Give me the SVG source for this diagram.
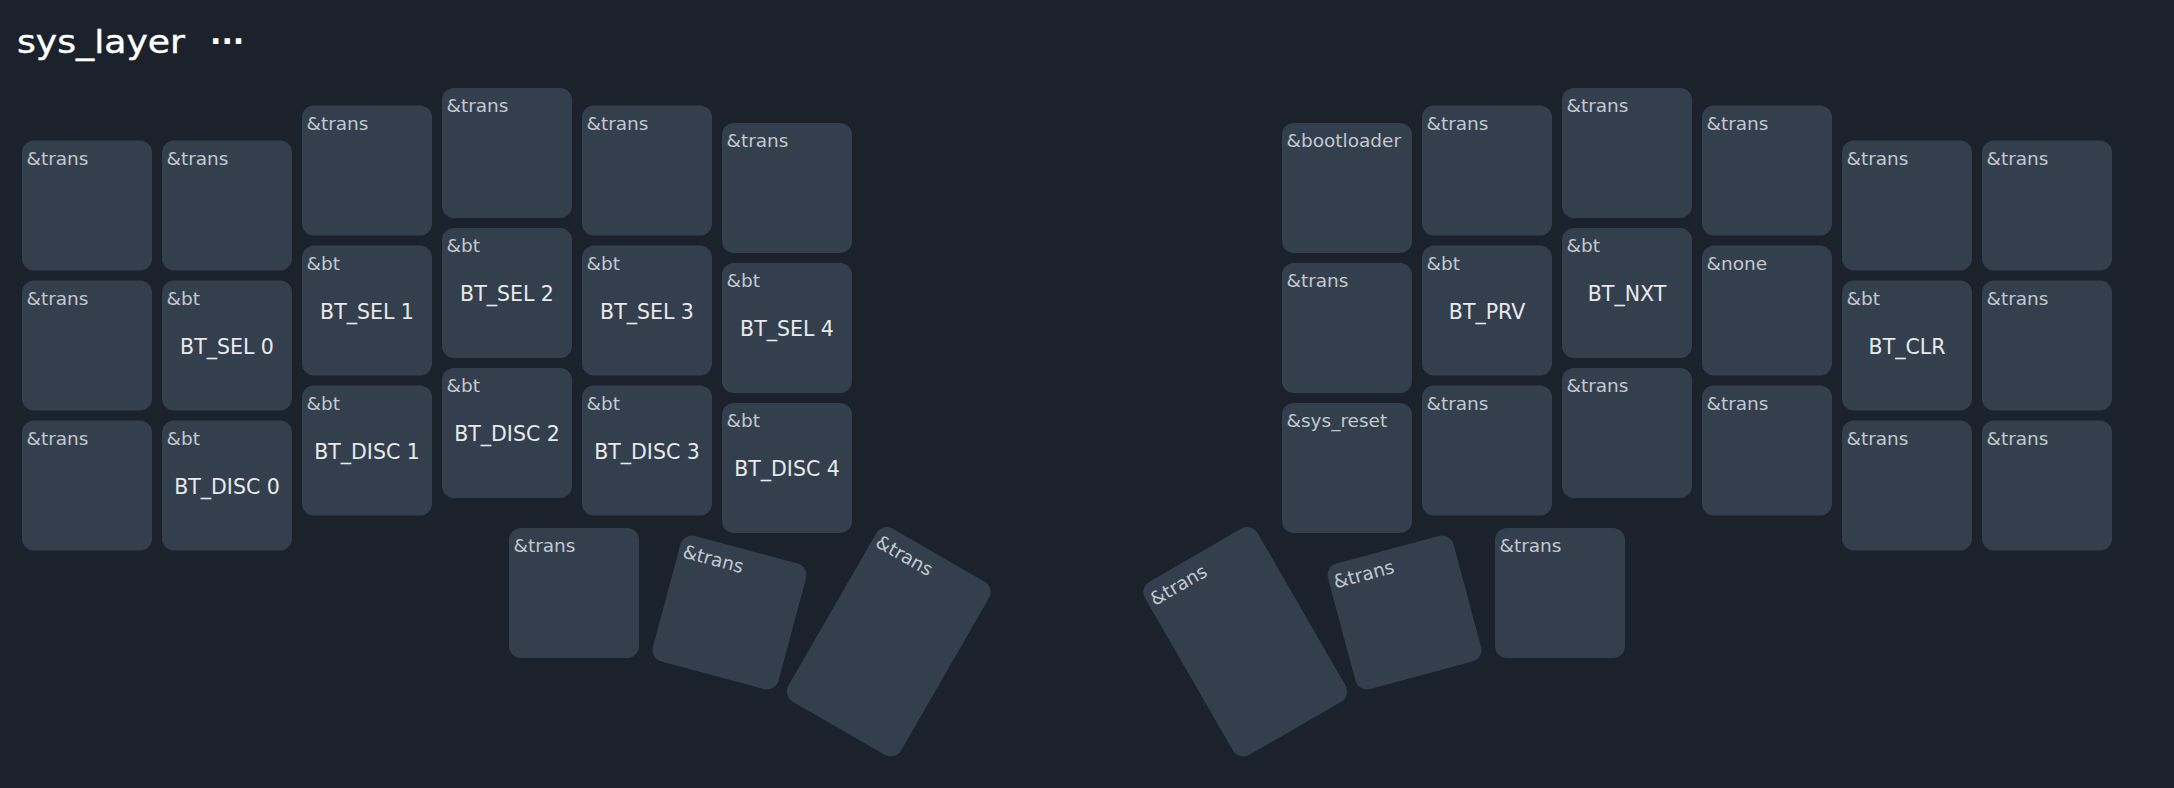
<svg xmlns="http://www.w3.org/2000/svg" width="2174" height="788" viewBox="0 0 2174 788">
<style>
  .bg { fill: #1b222b; }
  .kf { fill: #343f4d; }
  .key .h { font-family: "DejaVu Sans", "Liberation Sans", sans-serif; font-size: 18.5px; fill: #c3c8cf; }
  .key .t { font-family: "DejaVu Sans", "Liberation Sans", sans-serif; font-size: 20.5px; fill: #e8eaee; text-anchor: middle; }
  .title { font-family: "DejaVu Sans", "Liberation Sans", sans-serif; font-size: 32px; fill: #ffffff; stroke: #ffffff; stroke-width: 0.4; }
  .dots { font-family: "DejaVu Sans", "Liberation Sans", sans-serif; font-size: 30px; font-weight: bold; fill: #ffffff; }
</style>
<defs>
  <rect id="k1" class="kf" fill="#343f4d" width="130" height="130" rx="12" ry="12"/>
  <rect id="k15" class="kf" fill="#343f4d" x="-65" y="-100" width="130" height="200" rx="12" ry="12"/>
</defs>
<rect class="bg" x="0" y="0" width="2174" height="788"/>
<g id="title">
  <text class="title" x="17" y="53" textLength="168" lengthAdjust="spacingAndGlyphs">sys_layer</text>
  <text class="dots" x="210" y="52">···</text>
</g>

<!-- Left half -->
<g id="L-r0-c0" class="key" transform="translate(22,140.5)"><use href="#k1"/><text class="h" x="4.5" y="24">&amp;trans</text></g>
<g id="L-r0-c1" class="key" transform="translate(162,140.5)"><use href="#k1"/><text class="h" x="4.5" y="24">&amp;trans</text></g>
<g id="L-r0-c2" class="key" transform="translate(302,105.5)"><use href="#k1"/><text class="h" x="4.5" y="24">&amp;trans</text></g>
<g id="L-r0-c3" class="key" transform="translate(442,88)"><use href="#k1"/><text class="h" x="4.5" y="24">&amp;trans</text></g>
<g id="L-r0-c4" class="key" transform="translate(582,105.5)"><use href="#k1"/><text class="h" x="4.5" y="24">&amp;trans</text></g>
<g id="L-r0-c5" class="key" transform="translate(722,123)"><use href="#k1"/><text class="h" x="4.5" y="24">&amp;trans</text></g>

<g id="L-r1-c0" class="key" transform="translate(22,280.5)"><use href="#k1"/><text class="h" x="4.5" y="24">&amp;trans</text></g>
<g id="L-r1-c1" class="key" transform="translate(162,280.5)"><use href="#k1"/><text class="h" x="4.5" y="24">&amp;bt</text><text class="t" x="65" y="73">BT_SEL 0</text></g>
<g id="L-r1-c2" class="key" transform="translate(302,245.5)"><use href="#k1"/><text class="h" x="4.5" y="24">&amp;bt</text><text class="t" x="65" y="73">BT_SEL 1</text></g>
<g id="L-r1-c3" class="key" transform="translate(442,228)"><use href="#k1"/><text class="h" x="4.5" y="24">&amp;bt</text><text class="t" x="65" y="73">BT_SEL 2</text></g>
<g id="L-r1-c4" class="key" transform="translate(582,245.5)"><use href="#k1"/><text class="h" x="4.5" y="24">&amp;bt</text><text class="t" x="65" y="73">BT_SEL 3</text></g>
<g id="L-r1-c5" class="key" transform="translate(722,263)"><use href="#k1"/><text class="h" x="4.5" y="24">&amp;bt</text><text class="t" x="65" y="73">BT_SEL 4</text></g>

<g id="L-r2-c0" class="key" transform="translate(22,420.5)"><use href="#k1"/><text class="h" x="4.5" y="24">&amp;trans</text></g>
<g id="L-r2-c1" class="key" transform="translate(162,420.5)"><use href="#k1"/><text class="h" x="4.5" y="24">&amp;bt</text><text class="t" x="65" y="73">BT_DISC 0</text></g>
<g id="L-r2-c2" class="key" transform="translate(302,385.5)"><use href="#k1"/><text class="h" x="4.5" y="24">&amp;bt</text><text class="t" x="65" y="73">BT_DISC 1</text></g>
<g id="L-r2-c3" class="key" transform="translate(442,368)"><use href="#k1"/><text class="h" x="4.5" y="24">&amp;bt</text><text class="t" x="65" y="73">BT_DISC 2</text></g>
<g id="L-r2-c4" class="key" transform="translate(582,385.5)"><use href="#k1"/><text class="h" x="4.5" y="24">&amp;bt</text><text class="t" x="65" y="73">BT_DISC 3</text></g>
<g id="L-r2-c5" class="key" transform="translate(722,403)"><use href="#k1"/><text class="h" x="4.5" y="24">&amp;bt</text><text class="t" x="65" y="73">BT_DISC 4</text></g>

<g id="L-t0" class="key" transform="translate(509,528)"><use href="#k1"/><text class="h" x="4.5" y="24">&amp;trans</text></g>
<g id="L-t1" class="key" transform="translate(729.5,612.5) rotate(15)"><use href="#k1" x="-65" y="-65"/><text class="h" x="-60.5" y="-41">&amp;trans</text></g>
<g id="L-t2" class="key" transform="translate(888.75,641.75) rotate(30)"><use href="#k15"/><text class="h" x="-60.5" y="-76">&amp;trans</text></g>

<!-- Right half -->
<g id="R-r0-c0" class="key" transform="translate(1282,123)"><use href="#k1"/><text class="h" x="4.5" y="24">&amp;bootloader</text></g>
<g id="R-r0-c1" class="key" transform="translate(1422,105.5)"><use href="#k1"/><text class="h" x="4.5" y="24">&amp;trans</text></g>
<g id="R-r0-c2" class="key" transform="translate(1562,88)"><use href="#k1"/><text class="h" x="4.5" y="24">&amp;trans</text></g>
<g id="R-r0-c3" class="key" transform="translate(1702,105.5)"><use href="#k1"/><text class="h" x="4.5" y="24">&amp;trans</text></g>
<g id="R-r0-c4" class="key" transform="translate(1842,140.5)"><use href="#k1"/><text class="h" x="4.5" y="24">&amp;trans</text></g>
<g id="R-r0-c5" class="key" transform="translate(1982,140.5)"><use href="#k1"/><text class="h" x="4.5" y="24">&amp;trans</text></g>

<g id="R-r1-c0" class="key" transform="translate(1282,263)"><use href="#k1"/><text class="h" x="4.5" y="24">&amp;trans</text></g>
<g id="R-r1-c1" class="key" transform="translate(1422,245.5)"><use href="#k1"/><text class="h" x="4.5" y="24">&amp;bt</text><text class="t" x="65" y="73">BT_PRV</text></g>
<g id="R-r1-c2" class="key" transform="translate(1562,228)"><use href="#k1"/><text class="h" x="4.5" y="24">&amp;bt</text><text class="t" x="65" y="73">BT_NXT</text></g>
<g id="R-r1-c3" class="key" transform="translate(1702,245.5)"><use href="#k1"/><text class="h" x="4.5" y="24">&amp;none</text></g>
<g id="R-r1-c4" class="key" transform="translate(1842,280.5)"><use href="#k1"/><text class="h" x="4.5" y="24">&amp;bt</text><text class="t" x="65" y="73">BT_CLR</text></g>
<g id="R-r1-c5" class="key" transform="translate(1982,280.5)"><use href="#k1"/><text class="h" x="4.5" y="24">&amp;trans</text></g>

<g id="R-r2-c0" class="key" transform="translate(1282,403)"><use href="#k1"/><text class="h" x="4.5" y="24">&amp;sys_reset</text></g>
<g id="R-r2-c1" class="key" transform="translate(1422,385.5)"><use href="#k1"/><text class="h" x="4.5" y="24">&amp;trans</text></g>
<g id="R-r2-c2" class="key" transform="translate(1562,368)"><use href="#k1"/><text class="h" x="4.5" y="24">&amp;trans</text></g>
<g id="R-r2-c3" class="key" transform="translate(1702,385.5)"><use href="#k1"/><text class="h" x="4.5" y="24">&amp;trans</text></g>
<g id="R-r2-c4" class="key" transform="translate(1842,420.5)"><use href="#k1"/><text class="h" x="4.5" y="24">&amp;trans</text></g>
<g id="R-r2-c5" class="key" transform="translate(1982,420.5)"><use href="#k1"/><text class="h" x="4.5" y="24">&amp;trans</text></g>

<g id="R-t2" class="key" transform="translate(1245.25,641.75) rotate(-30)"><use href="#k15"/><text class="h" x="-60.5" y="-76">&amp;trans</text></g>
<g id="R-t1" class="key" transform="translate(1404.5,612.5) rotate(-15)"><use href="#k1" x="-65" y="-65"/><text class="h" x="-60.5" y="-41">&amp;trans</text></g>
<g id="R-t0" class="key" transform="translate(1495,528)"><use href="#k1"/><text class="h" x="4.5" y="24">&amp;trans</text></g>

<g id="connectors"></g>
</svg>
